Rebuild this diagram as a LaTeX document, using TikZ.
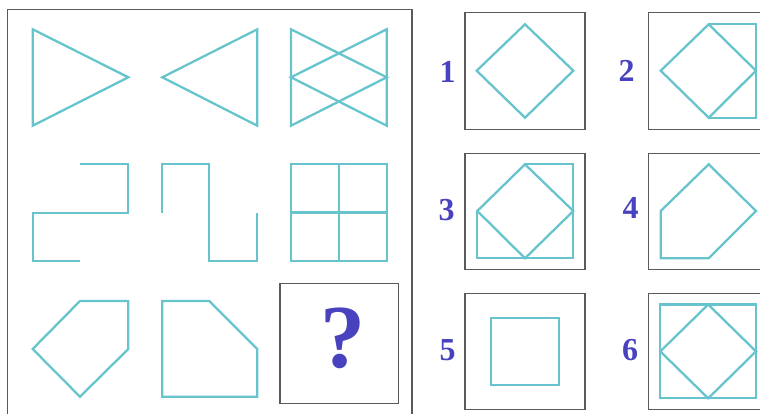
\documentclass[tikz,border=0pt]{standalone}
\usepackage{fontspec}
\setmainfont{Liberation Serif}

\definecolor{figcyan}{RGB}{104,196,204}
\definecolor{numblue}{RGB}{72,66,190}
\definecolor{framegray}{RGB}{90,90,90}

\begin{document}
\begin{tikzpicture}[x=1pt,y=-1pt,
  fig/.style={figcyan, line width=2.3pt},
  frame/.style={framegray, line width=1.3pt},
  num/.style={numblue, font=\bfseries\fontsize{32}{32}\selectfont}]
  \useasboundingbox (0,0) rectangle (760,414);
  \clip (0,0) rectangle (760,414);

  % Puzzle frame
  \draw[frame] (7.5,9.5) rectangle (412,420);

  % Row 1: triangles
  \draw[fig] (32.7,29.3) -- (128.3,77.3) -- (32.7,125.7) -- cycle;
  \draw[fig] (257.3,29.3) -- (162.3,77.3) -- (257.3,125.7) -- cycle;
  \draw[fig] (291,29.3) -- (386.7,77.3) -- (291,125.7) -- cycle;
  \draw[fig] (386.7,29.3) -- (291,77.3) -- (386.7,125.7) -- cycle;

  % Row 2: hooks and window
  \draw[fig] (80,164.3) -- (128.3,164.3) -- (128.3,212.7) -- (32.7,212.7) -- (32.7,260.7) -- (80,260.7);
  \draw[fig] (162.3,212.7) -- (162.3,164.3) -- (209.3,164.3) -- (209.3,260.7) -- (257.3,260.7) -- (257.3,212.7);
  \draw[fig] (291,164.3) rectangle (386.7,260.7);
    \draw[fig] (338.8,164.3) -- (338.8,260.7);
    \draw[fig] (291,212.5) -- (386.7,212.5);

  % Row 3: cut corners
  \draw[fig] (80,301) -- (128.3,301) -- (128.3,349) -- (80,396.7) -- (32.7,349) -- cycle;
  \draw[fig] (162.3,301) -- (209.3,301) -- (257.3,349) -- (257.3,396.7) -- (162.3,396.7) -- cycle;

  % Missing cell
  \draw[frame] (280,283.3) rectangle (398.3,403.3);
  \node[numblue, font=\bfseries\fontsize{90}{90}\selectfont] (ask) at (343,338) {?};

  % Option 1
  \draw[frame] (465,12.7) rectangle (585,129.3);
  \draw[fig] (525,24.3) -- (573.3,70.7) -- (525,117.7) -- (476.7,70.7) -- cycle;
  \node[num] (opt1) at (447.7,71.5) {1};

  % Option 2
  \draw[frame] (648.7,12.7) rectangle (775,129.3);
  \draw[fig] (708.7,24.3) -- (756,70.7) -- (708.7,117.7) -- (660.7,70.7) -- cycle;
  \draw[fig] (708.7,24.3) -- (756,24.3) -- (756,117.7) -- (708.7,117.7);
  \node[num] (opt2) at (626.7,71) {2};

  % Option 3
  \draw[frame] (465,153.3) rectangle (585,269.3);
  \draw[fig] (525,164.3) -- (573.3,211) -- (525,258.3) -- (477.3,211) -- cycle;
  \draw[fig] (477.3,211) -- (477.3,258.3) -- (573.3,258.3) -- (573.3,164.3) -- (525,164.3);
  \node[num] (opt3) at (446.7,210) {3};

  % Option 4
  \draw[frame] (648.7,153.3) rectangle (775,269.3);
  \draw[fig] (660.7,211) -- (708.7,164.3) -- (756,211) -- (708.7,258.3) -- (660.7,258.3) -- cycle;
  \node[num] (opt4) at (630.7,208) {4};

  % Option 5
  \draw[frame] (465,293.3) rectangle (585,409.5);
  \draw[fig] (491,318.3) rectangle (559.3,385);
  \node[num] (opt5) at (447.7,350) {5};

  % Option 6
  \draw[frame] (648.7,293.3) rectangle (775,409.5);
  \draw[fig] (660.3,304.5) rectangle (756,398.3);
  \draw[fig] (708.2,304.5) -- (756,351.4) -- (708.2,398.3) -- (660.3,351.4) -- cycle;
  \node[num] (opt6) at (630,350) {6};

\end{tikzpicture}
\end{document}
